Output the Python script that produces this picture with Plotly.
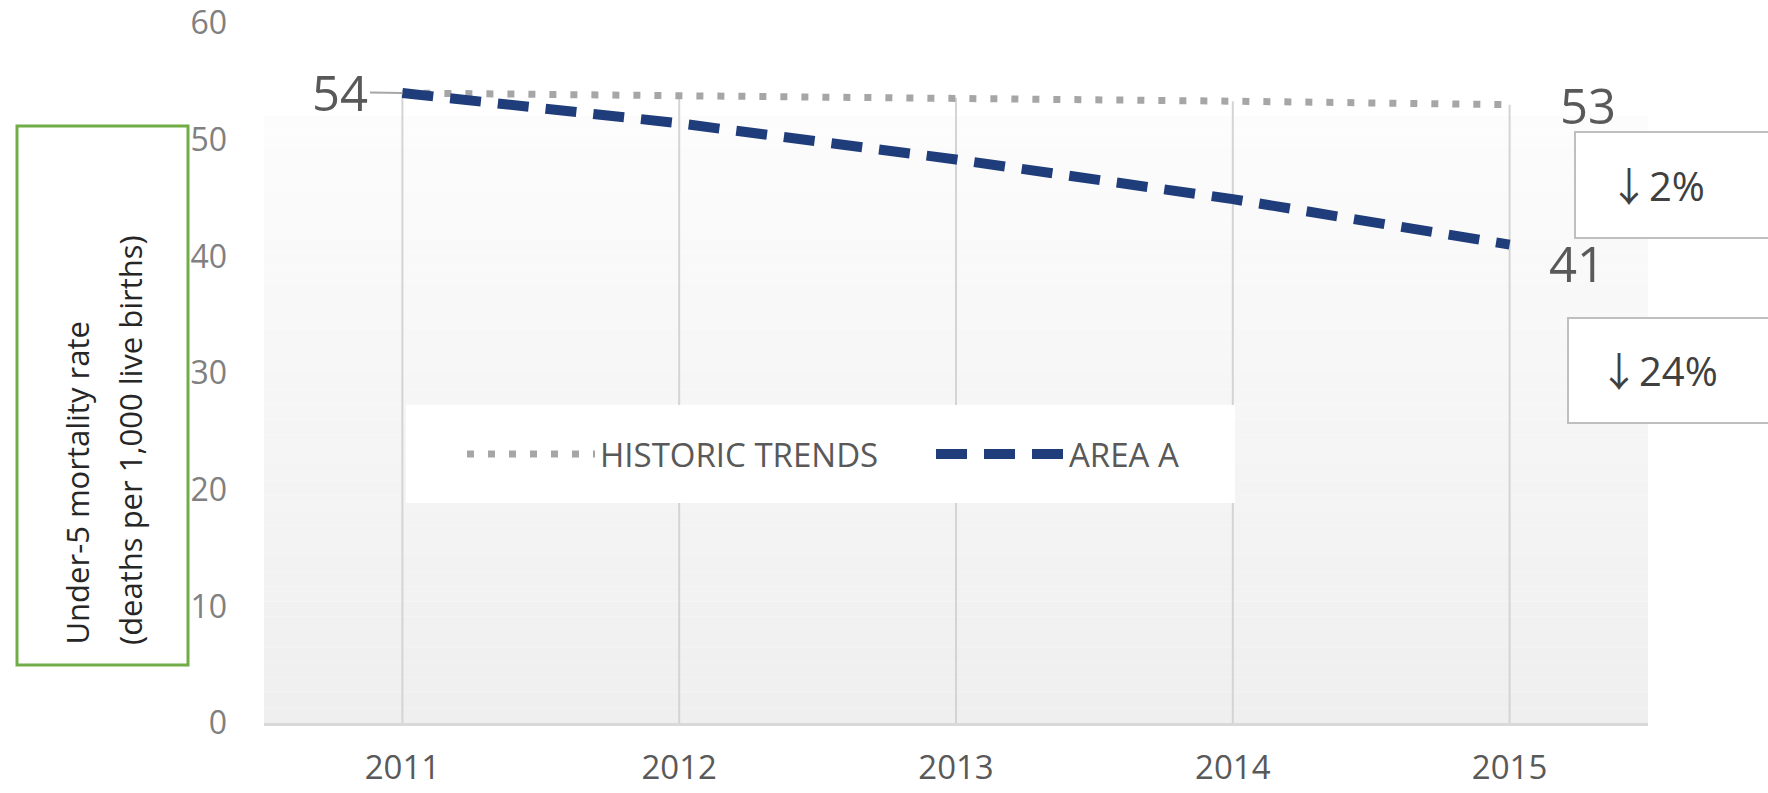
import plotly.graph_objects as go

# ---- data ----
years = [2011, 2012, 2013, 2014, 2015]
historic = [54, 53.8, 53.6, 53.3, 53]
area_a = [54, 51.4, 48.3, 44.9, 41]
series_names = ["HISTORIC TRENDS", "AREA A"]
y_ticks = [0, 10, 20, 30, 40, 50, 60]
y_title_lines = ["Under-5 mortality rate", "(deaths per 1,000 live births)"]

# ---- geometry helpers (styling only) ----
W, H = 1768, 793
ML, MR, MT, MB = 264, 120, 23, 70
PW, PH = W - ML - MR, H - MT - MB


def px(x):
    return (x - ML) / PW


def py(y):
    return (H - MB - y) / PH


FONT = "Open Sans"
GRAY_TXT = "#595959"
ARROW = "<span style=\"font-family:'Noto Sans CJK JP'\">\u2193</span>"

fig = go.Figure()

# drop lines from the highest series value at each year down to zero
dx, dy = [], []
for i, yr in enumerate(years):
    dx += [yr, yr, None]
    dy += [max(historic[i], area_a[i]), 0, None]
fig.add_trace(go.Scatter(x=dx, y=dy, mode="lines", line=dict(color="#d4d4d4", width=2),
                         showlegend=False, hoverinfo="skip"))

fig.add_trace(go.Scatter(x=years, y=historic, mode="lines", name=series_names[0],
                         line=dict(color="#a6a6a6", width=7, dash="7px,14px")))
fig.add_trace(go.Scatter(x=years, y=area_a, mode="lines", name=series_names[1],
                         line=dict(color="#1f3d7a", width=10, dash="31px,17px")))

shapes = []
# plot-area gradient background
N = 40
g_top = py(116)
for k in range(N):
    t = k / (N - 1)
    c = int(round(252 - 13 * t))
    shapes.append(dict(type="rect", xref="paper", yref="paper",
                       x0=0, x1=1, y0=g_top * (1 - (k + 1) / N), y1=g_top * (1 - k / N),
                       fillcolor=f"rgb({c},{c},{c})", line=dict(width=0), layer="below"))
# legend white panel
shapes.append(dict(type="rect", xref="paper", yref="paper",
                   x0=px(406), x1=px(1235), y0=py(503), y1=py(405),
                   fillcolor="white", line=dict(width=0), layer="above"))
# green frame around y title
shapes.append(dict(type="rect", xref="paper", yref="paper",
                   x0=px(17), x1=px(188), y0=py(665), y1=py(126),
                   fillcolor="rgba(0,0,0,0)", line=dict(color="#70ad47", width=3)))
# percent boxes
shapes.append(dict(type="rect", xref="paper", yref="paper",
                   x0=px(1575), x1=px(1800), y0=py(238), y1=py(132),
                   fillcolor="white", line=dict(color="#bfbfbf", width=2)))
shapes.append(dict(type="rect", xref="paper", yref="paper",
                   x0=px(1568), x1=px(1800), y0=py(423), y1=py(318),
                   fillcolor="white", line=dict(color="#bfbfbf", width=2)))

annotations = []
# value labels
annotations.append(dict(x=years[0], y=historic[0], text=f"{historic[0]:.0f}", showarrow=True,
                        arrowhead=0, arrowwidth=2, arrowcolor="#a6a6a6", ax=-62, ay=-1,
                        font=dict(family=FONT, size=49, color=GRAY_TXT)))
annotations.append(dict(x=years[-1], y=historic[-1], text=f"{historic[-1]:.0f}", showarrow=False,
                        xshift=78, yshift=0, font=dict(family=FONT, size=49, color=GRAY_TXT)))
annotations.append(dict(x=years[-1], y=area_a[-1], text=f"{area_a[-1]:.0f}", showarrow=False,
                        xshift=67, yshift=-18, font=dict(family=FONT, size=49, color=GRAY_TXT)))
# percent changes
pct_hist = round(abs((historic[-1] - historic[0]) / historic[0] * 100))
pct_area = round(abs((area_a[-1] - area_a[0]) / area_a[0] * 100))
annotations.append(dict(xref="paper", yref="paper", x=px(1607), y=py(184), xanchor="left",
                        yanchor="middle", text=f"{ARROW}{pct_hist}%", showarrow=False,
                        font=dict(family=FONT, size=40, color="#404040")))
annotations.append(dict(xref="paper", yref="paper", x=px(1597), y=py(369), xanchor="left",
                        yanchor="middle", text=f"{ARROW}{pct_area}%", showarrow=False,
                        font=dict(family=FONT, size=40, color="#404040")))
# y title lines
for cx, line in zip([76, 130], y_title_lines):
    annotations.append(dict(xref="paper", yref="paper", x=px(cx), y=py(647), xanchor="center",
                            yanchor="bottom", text=line, textangle=-90, showarrow=False,
                            font=dict(family=FONT, size=31, color="#262626")))

fig.update_layout(
    width=W, height=H,
    margin=dict(l=ML, r=MR, t=MT, b=MB, autoexpand=False),
    paper_bgcolor="white", plot_bgcolor="white",
    font=dict(family=FONT, color=GRAY_TXT),
    shapes=shapes, annotations=annotations,
    showlegend=True,
    legend=dict(orientation="h", x=px(462), y=py(454), xanchor="left", yanchor="middle",
                bgcolor="rgba(0,0,0,0)", font=dict(family=FONT, size=33, color=GRAY_TXT),
                entrywidth=326, entrywidthmode="pixels", itemwidth=128),
    xaxis=dict(range=[2010.5, 2015.5], tickvals=years, ticktext=[str(y) for y in years],
               showgrid=False, zeroline=False, showline=True, linecolor="#d9d9d9", linewidth=3,
               ticks="", ticklabelstandoff=13, automargin=False,
               tickfont=dict(family=FONT, size=33, color=GRAY_TXT), fixedrange=True),
    yaxis=dict(range=[0, 60], tickvals=y_ticks, showgrid=False, zeroline=False, showline=False,
               ticks="", ticklabelstandoff=36, automargin=False,
               tickfont=dict(family=FONT, size=32, color="#808080"), fixedrange=True),
)

fig.write_html("out.html", config={"displayModeBar": False},
               post_script="document.body.style.margin='0';")
